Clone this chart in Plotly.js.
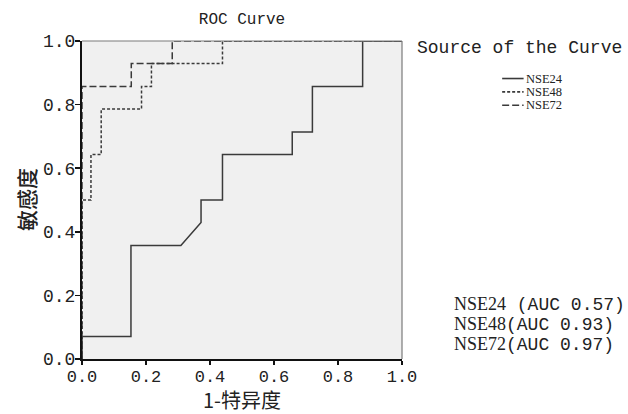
<!DOCTYPE html>
<html>
<head>
<meta charset="utf-8">
<script src="https://cdn.plot.ly/plotly-3.0.1.min.js"></script>
<style>html,body{margin:0;padding:0;background:#fff;}#chart{width:628px;height:414px;}</style>
</head>
<body>
<div id="chart"></div>
<script>
// ---- data ----
var seriesNames = ["NSE24", "NSE48", "NSE72"];
var aucValues = ["0.57", "0.93", "0.97"];
var tickValues = [0, 0.2, 0.4, 0.6, 0.8, 1.0];

var nse24X = [0, 0, 0.153, 0.153, 0.309, 0.372, 0.372, 0.439, 0.439, 0.657, 0.657, 0.72, 0.72, 0.877, 0.877, 1];
var nse24Y = [0, 0.071, 0.071, 0.357, 0.357, 0.429, 0.5, 0.5, 0.643, 0.643, 0.714, 0.714, 0.857, 0.857, 1, 1];

var nse48X = [0, 0, 0.028, 0.028, 0.06, 0.06, 0.186, 0.186, 0.217, 0.217, 0.439, 0.439, 1];
var nse48Y = [0, 0.5, 0.5, 0.643, 0.643, 0.786, 0.786, 0.857, 0.857, 0.929, 0.929, 1, 1];

var nse72X = [0, 0, 0.154, 0.154, 0.282, 0.282, 1];
var nse72Y = [0, 0.857, 0.857, 0.929, 0.929, 1, 1];

// ---- styles ----
var lineColor = "#3a3a3a";
var dashes = ["solid", "3px,2px", "7px,3px"];
var xs = [nse24X, nse48X, nse72X];
var ys = [nse24Y, nse48Y, nse72Y];

var traces = seriesNames.map(function (n, i) {
  return {
    x: xs[i], y: ys[i], type: "scatter", mode: "lines", name: n,
    line: {color: lineColor, width: 1.5, dash: dashes[i]},
    hoverinfo: "skip", showlegend: false
  };
});

var monoFont = "Liberation Mono, DejaVu Sans Mono, monospace";
var serifFont = "Liberation Serif, DejaVu Serif, serif";
var cjkFont = "Noto Sans CJK SC, sans-serif";

var shapes = [
  {type: "line", xref: "paper", yref: "paper", x0: 0, x1: 1, y0: 1, y1: 1,
   line: {color: "#7a7a7a", width: 1.2}, layer: "above"},
  {type: "line", xref: "paper", yref: "paper", x0: 1, x1: 1, y0: 0, y1: 1,
   line: {color: "#7a7a7a", width: 1.2}, layer: "above"}
];
var annotations = [
  {xref: "paper", yref: "paper", x: 1.042, y: 0.978, xanchor: "left", yanchor: "middle",
   text: "Source of the Curve", showarrow: false, font: {family: monoFont, size: 18, color: "#222"}}
];
var legY = [0.882, 0.840, 0.798];
seriesNames.forEach(function (n, i) {
  shapes.push({type: "line", xref: "paper", yref: "paper", x0: 1.313, x1: 1.380, y0: legY[i], y1: legY[i],
    line: {color: lineColor, width: 1.6, dash: dashes[i]}});
  annotations.push({xref: "paper", yref: "paper", x: 1.385, y: legY[i], xanchor: "left", yanchor: "middle",
    text: n, showarrow: false, borderpad: 0, font: {family: serifFont, size: 12.5, color: "#222"}});
});
var aucY = [0.172, 0.109, 0.046];
seriesNames.forEach(function (n, i) {
  var sep = (i === 0) ? " (" : "(";
  annotations.push({xref: "paper", yref: "paper", x: 1.16, y: aucY[i], xanchor: "left", yanchor: "middle",
    text: n + '<span style="font-family:Liberation Mono">' + sep + "AUC " + aucValues[i] + ")</span>",
    showarrow: false, borderpad: 0, font: {family: serifFont, size: 18, color: "#222"}});
});
// y-axis title
annotations.push({xref: "paper", yref: "paper", x: -0.175, y: 0.5, xanchor: "center", yanchor: "middle",
  text: "敏感度", textangle: -90, showarrow: false, font: {family: cjkFont, size: 21, color: "#222", weight: 500}});

var layout = {
  width: 628, height: 414,
  margin: {l: 82, r: 226, t: 41, b: 55},
  paper_bgcolor: "#ffffff",
  plot_bgcolor: "#f0f0f0",
  showlegend: false,
  title: {text: "ROC Curve", x: 0.5, xref: "paper", y: 1 - 18 / 414, yanchor: "middle",
    font: {family: monoFont, size: 16, color: "#222"}},
  xaxis: {
    range: [0, 1], tickvals: tickValues, tickformat: ".1f",
    showgrid: false, zeroline: false, showline: true, linecolor: "#111", linewidth: 2,
    ticks: "outside", ticklen: 4, tickwidth: 1.5, tickcolor: "#111",
    tickfont: {family: monoFont, size: 17, color: "#222"},
    ticklabelstandoff: -3,
    title: {text: "1-特异度", font: {family: cjkFont, size: 20, color: "#222"}, standoff: 8},
    fixedrange: true
  },
  yaxis: {
    range: [0, 1], tickvals: tickValues, tickformat: ".1f",
    showgrid: false, zeroline: false, showline: true, linecolor: "#111", linewidth: 2,
    ticks: "outside", ticklen: 5, tickwidth: 1.5, tickcolor: "#111",
    tickfont: {family: monoFont, size: 18, color: "#222"},
    ticklabelstandoff: -4,
    fixedrange: true
  },
  shapes: shapes,
  annotations: annotations
};

Plotly.newPlot("chart", traces, layout, {displayModeBar: false, staticPlot: true});
</script>
</body>
</html>
